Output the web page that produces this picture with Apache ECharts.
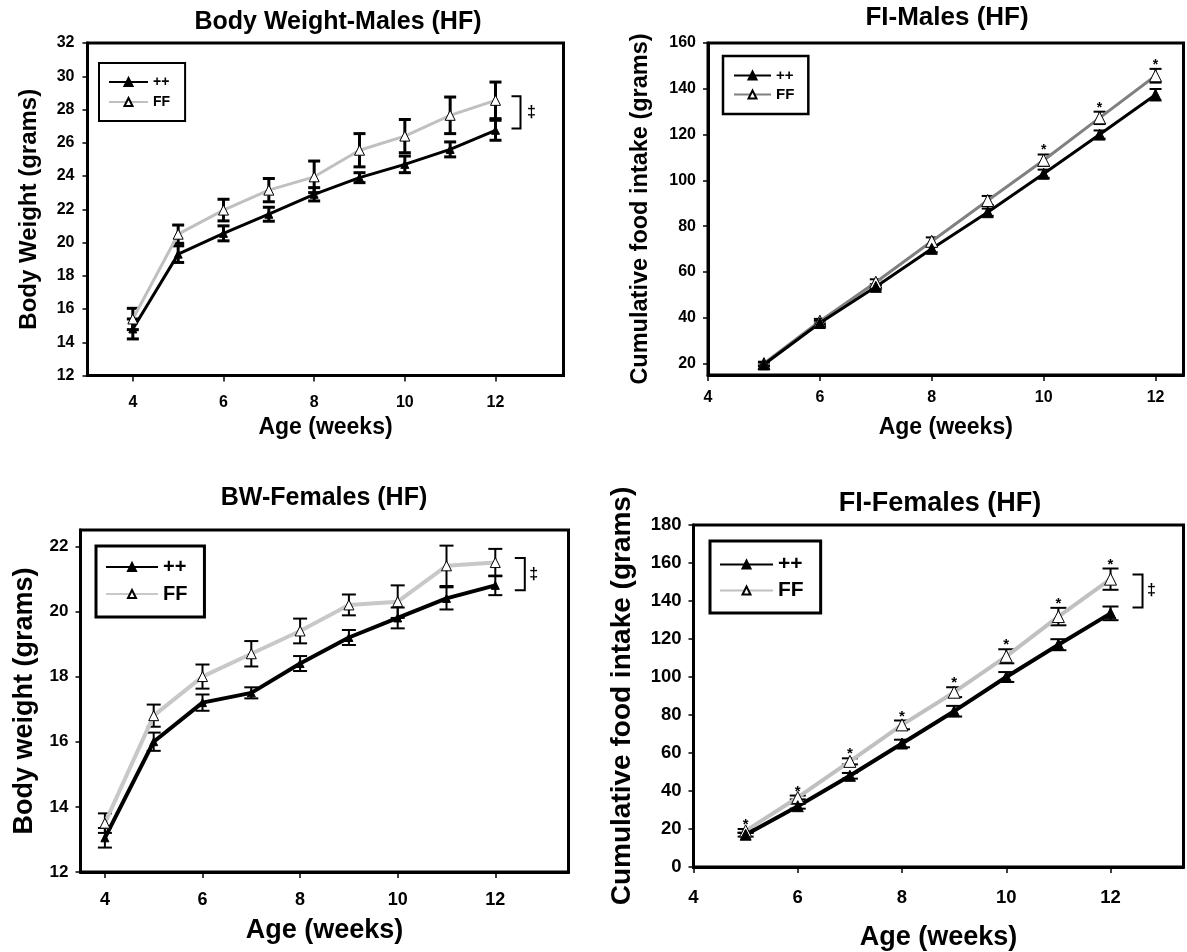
<!DOCTYPE html>
<html>
<head>
<meta charset="utf-8">
<script src="https://cdn.jsdelivr.net/npm/echarts@6/dist/echarts.min.js"></script>
<style>
html,body{margin:0;padding:0;background:#fff;}
#c{width:1187px;height:952px;}
</style>
</head>
<body>
<div id="c"></div>
<script>
// ---------- data ----------
const weeksBW = [4, 5, 6, 7, 8, 9, 10, 11, 12];
const weeksFI = [5, 6, 7, 8, 9, 10, 11, 12];
const xTicks = [4, 6, 8, 10, 12];

const bwMalePP    = [14.8, 19.3, 20.55, 21.7, 22.9, 23.9, 24.7, 25.6, 26.75];
const bwMalePPErr = [0.6, 0.5, 0.45, 0.42, 0.4, 0.3, 0.5, 0.45, 0.6];
const bwMaleFF    = [15.4, 20.5, 21.95, 23.15, 23.95, 25.55, 26.4, 27.65, 28.55];
const bwMaleFFErr = [0.64, 0.55, 0.65, 0.7, 0.95, 1.0, 1.0, 1.1, 1.1];
const bwMaleYTicks = [12, 14, 16, 18, 20, 22, 24, 26, 28, 30, 32];
const bwMaleBracket = [28.8, 26.86];

const fiMalePP    = [19.6, 37.7, 53.5, 70.1, 86.1, 102.9, 120.0, 137.4];
const fiMalePPErr = [0.8, 1.0, 1.2, 1.5, 1.6, 1.8, 1.8, 2.5];
const fiMaleFF    = [20.0, 38.5, 55.5, 73.4, 91.2, 108.8, 127.3, 145.7];
const fiMaleFFErr = [0.8, 1.0, 1.3, 1.7, 2.0, 2.5, 2.7, 3.0];
const fiMaleSig   = [0, 0, 0, 0, 0, 1, 1, 1];
const fiMaleYTicks = [20, 40, 60, 80, 100, 120, 140, 160];

const bwFemPP    = [13.05, 16.0, 17.2, 17.5, 18.4, 19.2, 19.8, 20.4, 20.8];
const bwFemPPErr = [0.3, 0.28, 0.25, 0.17, 0.23, 0.23, 0.32, 0.34, 0.3];
const bwFemFF    = [13.5, 16.8, 18.0, 18.7, 19.4, 20.2, 20.3, 21.4, 21.5];
const bwFemFFErr = [0.3, 0.34, 0.37, 0.39, 0.38, 0.32, 0.5, 0.62, 0.42];
const bwFemYTicks = [12, 14, 16, 18, 20, 22];
const bwFemBracket = [21.64, 20.65];

const fiFemPP    = [17, 32, 48, 65, 82, 100, 117, 133.5];
const fiFemPPErr = [1.0, 1.3, 1.5, 2.0, 2.8, 2.6, 2.9, 3.6];
const fiFemFF    = [19, 36.6, 55.6, 74.8, 92, 110.9, 131.8, 151.5];
const fiFemFFErr = [1.0, 1.0, 1.6, 2.3, 2.6, 3.7, 4.6, 5.6];
const fiFemSig   = [1, 1, 1, 1, 1, 1, 1, 1];
const fiFemYTicks = [0, 20, 40, 60, 80, 100, 120, 140, 160, 180];
const fiFemBracket = [154, 136.6];

// ---------- helpers ----------
const FONT = "'Liberation Sans', Arial, sans-serif";
const zip = (xs, ys, es) => xs.map((x, i) => es ? [x, ys[i], es[i]] : [x, ys[i]]);

function errSeries(idx, data, capHalf, lw) {
  return {
    type: 'custom', xAxisIndex: idx, yAxisIndex: idx, z: 1, silent: true,
    clip: false, encode: { x: 0, y: 1 },
    data: data,
    renderItem: function (params, api) {
      const x = api.value(0), y = api.value(1), e = api.value(2);
      const t = api.coord([x, y + e]), b = api.coord([x, y - e]);
      const st = { stroke: '#000', lineWidth: lw };
      return { type: 'group', children: [
        { type: 'line', shape: { x1: t[0], y1: t[1], x2: b[0], y2: b[1] }, style: st },
        { type: 'line', shape: { x1: t[0] - capHalf, y1: t[1], x2: t[0] + capHalf, y2: t[1] }, style: st },
        { type: 'line', shape: { x1: b[0] - capHalf, y1: b[1], x2: b[0] + capHalf, y2: b[1] }, style: st }
      ]};
    }
  };
}

function starSeries(idx, weeks, vals, errs, sig, fs, gap) {
  const d = [];
  weeks.forEach((w, i) => { if (sig[i]) d.push([w, vals[i] + errs[i]]); });
  return {
    type: 'custom', xAxisIndex: idx, yAxisIndex: idx, z: 5, silent: true, clip: false,
    encode: { x: 0, y: 1 }, data: d,
    renderItem: function (params, api) {
      const p = api.coord([api.value(0), api.value(1)]);
      return { type: 'text', x: p[0], y: p[1] - gap,
        style: { text: '*', font: 'bold ' + fs + 'px ' + FONT, fill: '#000', align: 'center', verticalAlign: 'middle' } };
    }
  };
}

function bracketSeries(idx, xAt, range, off1, off2, offT, fs) {
  return {
    type: 'custom', xAxisIndex: idx, yAxisIndex: idx, z: 5, silent: true, clip: false,
    encode: { x: 0, y: 1 }, data: [[xAt, range[0], range[1]]],
    renderItem: function (params, api) {
      const a = api.coord([api.value(0), api.value(1)]);
      const b = api.coord([api.value(0), api.value(2)]);
      const x1 = a[0] + off1, x2 = a[0] + off2;
      return { type: 'group', children: [
        { type: 'polyline', shape: { points: [[x1, a[1]], [x2, a[1]], [x2, b[1]], [x1, b[1]]] },
          style: { stroke: '#000', lineWidth: 2, fill: null } },
        { type: 'text', x: a[0] + offT, y: (a[1] + b[1]) / 2,
          style: { text: '\u2021', font: 'bold ' + fs + 'px ' + FONT, fill: '#000', align: 'center', verticalAlign: 'middle' } }
      ]};
    }
  };
}

function lineSeries(idx, name, data, color, lw, filled, size) {
  return {
    type: 'line', name: name, xAxisIndex: idx, yAxisIndex: idx, z: 3,
    data: data, symbol: 'triangle', symbolSize: size, showSymbol: true,
    lineStyle: { color: color, width: lw },
    itemStyle: filled ? { color: '#000', borderColor: '#000', borderWidth: 1 }
                      : { color: '#fff', borderColor: '#000', borderWidth: 1 },
    emphasis: { disabled: true }, animation: false
  };
}

function xAxisCfg(idx, min, max, lblFs, lblMargin, nameFs, nameGap) {
  return {
    gridIndex: idx, type: 'value', min: min, max: max,
    name: 'Age (weeks)', nameLocation: 'middle', nameGap: nameGap,
    nameTextStyle: { fontFamily: FONT, fontWeight: 'bold', fontSize: nameFs, color: '#000' },
    axisLine: { show: true, onZero: false, lineStyle: { color: '#000', width: 3 } },
    axisTick: { show: true, inside: false, length: 6, customValues: xTicks, lineStyle: { color: '#000', width: 1.5 } },
    axisLabel: { customValues: xTicks, margin: lblMargin, fontFamily: FONT, fontWeight: 'bold', fontSize: lblFs, color: '#000' },
    splitLine: { show: false }
  };
}

function yAxisCfg(idx, min, max, ticks, name, lblFs, lblMargin, nameFs, nameGap) {
  return {
    gridIndex: idx, type: 'value', min: min, max: max,
    name: name, nameLocation: 'middle', nameRotate: 90, nameGap: nameGap,
    nameTextStyle: { fontFamily: FONT, fontWeight: 'bold', fontSize: nameFs, color: '#000' },
    axisLine: { show: true, onZero: false, lineStyle: { color: '#000', width: 3 } },
    axisTick: { show: true, inside: false, length: 5, customValues: ticks, lineStyle: { color: '#000', width: 1.5 } },
    axisLabel: { customValues: ticks, margin: lblMargin, fontFamily: FONT, fontWeight: 'bold', fontSize: lblFs, color: '#000' },
    splitLine: { show: false }
  };
}

function legendCfg(names, left, top, padding, itemW, fs, gap, bw) {
  return {
    data: names, left: left, top: top, orient: 'vertical', padding: padding,
    itemWidth: itemW, itemHeight: 10, itemGap: gap,
    borderColor: '#000', borderWidth: bw, backgroundColor: '#fff',
    selectedMode: false,
    formatter: n => n.trim(),
    textStyle: { fontFamily: FONT, fontWeight: 'bold', fontSize: fs, lineHeight: fs, color: '#000' }
  };
}

function titleCfg(text, cx, top, fs) {
  return { text: text, left: cx, top: top, textAlign: 'center', padding: 0,
    textStyle: { fontFamily: FONT, fontWeight: 'bold', fontSize: fs, color: '#000' } };
}

const W = 1187, H = 952;
function grid(l, t, r, b) {
  return { left: l, top: t, width: r - l, height: b - t, show: true, borderColor: '#000', borderWidth: 3, backgroundColor: 'transparent' };
}

const option = {
  animation: false,
  backgroundColor: '#fff',
  title: [
    titleCfg('Body Weight-Males (HF)', 338, 10, 25),
    titleCfg('FI-Males (HF)', 947, 5, 26),
    titleCfg('BW-Females (HF)', 324, 486, 25),
    titleCfg('FI-Females (HF)', 940, 490, 27)
  ],
  grid: [
    grid(87.5, 43, 563.5, 375.5),
    grid(708, 43, 1183.5, 375),
    grid(80.5, 530, 568.5, 872),
    grid(693.5, 525, 1183.5, 873.5)
  ],
  xAxis: [
    xAxisCfg(0, 3, 13.5, 16, 19, 23, 41),
    xAxisCfg(1, 4, 12.5, 16, 15, 23, 41),
    xAxisCfg(2, 3.5, 13.5, 18, 19, 27, 45),
    xAxisCfg(3, 4, 13.4, 18.5, 21, 27, 57)
  ],
  yAxis: [
    yAxisCfg(0, 12, 32, bwMaleYTicks, 'Body Weight (grams)', 16, 13, 24, 46),
    yAxisCfg(1, 15, 160, fiMaleYTicks, 'Cumulative food intake (grams)', 16, 12, 23.5, 55),
    yAxisCfg(2, 12, 22.5, bwFemYTicks, 'Body weight (grams)', 17, 12, 27, 42),
    yAxisCfg(3, 0, 180, fiFemYTicks, 'Cumulative food intake (grams)', 18.5, 12, 28, 57)
  ],
  legend: [
    legendCfg(['++', 'FF'], 99, 63, [12, 15, 12, 9], 39, 14, 6, 2),
    legendCfg(['++ ', 'FF '], 723, 56, [12, 14, 12, 10], 37, 15, 4, 2.5),
    legendCfg(['++  ', 'FF  '], 96, 546, [11, 17, 13, 9], 52, 20, 7, 3),
    legendCfg(['++   ', 'FF   '], 710, 541, [13, 17, 12, 9], 53, 21, 5, 3)
  ],
  series: [
    // Panel 1
    errSeries(0, zip(weeksBW, bwMaleFF, bwMaleFFErr), 6, 3),
    errSeries(0, zip(weeksBW, bwMalePP, bwMalePPErr), 6, 3),
    lineSeries(0, 'FF', zip(weeksBW, bwMaleFF), '#c0c0c0', 3, false, 10),
    lineSeries(0, '++', zip(weeksBW, bwMalePP), '#000', 3, true, 8),
    bracketSeries(0, 12, bwMaleBracket, 16, 25, 36, 16),
    // Panel 2
    errSeries(1, zip(weeksFI, fiMaleFF, fiMaleFFErr), 6, 2),
    errSeries(1, zip(weeksFI, fiMalePP, fiMalePPErr), 6, 2),
    lineSeries(1, 'FF ', zip(weeksFI, fiMaleFF), '#808080', 3, false, 12),
    lineSeries(1, '++ ', zip(weeksFI, fiMalePP), '#000', 3, true, 11),
    starSeries(1, weeksFI, fiMaleFF, fiMaleFFErr, fiMaleSig, 14, 4),
    // Panel 3
    errSeries(2, zip(weeksBW, bwFemFF, bwFemFFErr), 7, 2),
    errSeries(2, zip(weeksBW, bwFemPP, bwFemPPErr), 7, 2),
    lineSeries(2, 'FF  ', zip(weeksBW, bwFemFF), '#c8c8c8', 4, false, 10),
    lineSeries(2, '++  ', zip(weeksBW, bwFemPP), '#000', 4, true, 8),
    bracketSeries(2, 12, bwFemBracket, 19.5, 29.5, 38.5, 16),
    // Panel 4
    errSeries(3, zip(weeksFI, fiFemFF, fiFemFFErr), 8, 2),
    errSeries(3, zip(weeksFI, fiFemPP, fiFemPPErr), 8, 2),
    lineSeries(3, 'FF   ', zip(weeksFI, fiFemFF), '#c0c0c0', 4, false, 12),
    lineSeries(3, '++   ', zip(weeksFI, fiFemPP), '#000', 4, true, 11),
    starSeries(3, weeksFI, fiFemFF, fiFemFFErr, fiFemSig, 15, 4),
    bracketSeries(3, 12, fiFemBracket, 22, 32, 41, 16)
  ]
};

const chart = echarts.init(document.getElementById('c'), null, { renderer: 'canvas', width: W, height: H });
chart.setOption(option);
</script>
</body>
</html>
